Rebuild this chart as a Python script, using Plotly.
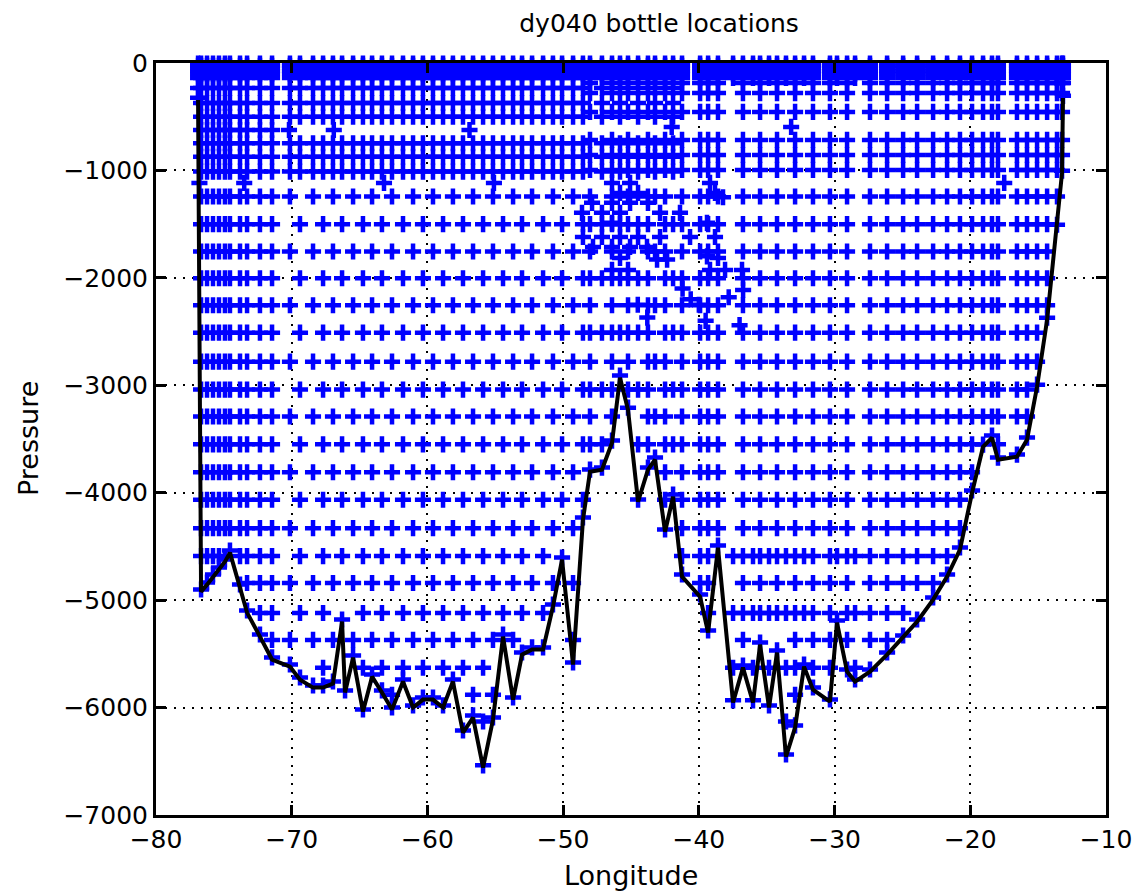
import plotly.graph_objects as go

# Station positions along the section and sea-floor pressure (dbar) at each
station_lon = [
    -76.90, -76.68, -76.24, -75.80, -75.36, -74.92, -74.55, -73.81, -73.29, -72.34,
    -71.45, -70.13, -69.39, -68.43, -67.69, -66.96, -66.29, -66.07, -65.48, -64.75,
    -64.08, -63.35, -62.61, -61.80, -61.06, -60.33, -59.59, -58.85, -58.12, -57.38,
    -56.64, -55.90, -55.17, -54.43, -53.69, -53.03, -52.29, -51.48, -50.75, -50.08,
    -49.27, -48.54, -48.02, -47.14, -46.40, -45.81, -45.22, -44.48, -43.75, -43.23,
    -42.49, -41.90, -41.24, -39.91, -39.32, -38.59, -37.48, -36.75, -36.01, -35.49,
    -34.83, -34.24, -33.58, -32.91, -32.25, -31.59, -30.34, -29.82, -29.08, -28.49,
    -27.39, -26.13, -24.95, -23.92, -22.74, -21.71, -20.76, -19.87, -19.06, -18.40,
    -17.96, -16.56, -15.82, -15.08, -14.34, -13.61, -13.24, -13.17,
]
station_bottom = [
    344, 4921, 4856, 4781, 4716, 4642, 4558, 4874, 5116, 5340,
    5553, 5619, 5740, 5814, 5814, 5777, 5200, 5860, 5535, 6037,
    5712, 5860, 6019, 5758, 6000, 5926, 5926, 6000, 5758, 6233,
    6093, 6558, 6112, 5340, 5926, 5507, 5460, 5460, 5060, 4623,
    5600, 4251, 3805, 3786, 3535, 2930, 3228, 4084, 3786, 3693,
    4363, 4037, 4781, 4967, 5302, 4512, 5953, 5628, 5953, 5414,
    6000, 5488, 6456, 6186, 5619, 5833, 5944, 5209, 5665, 5758,
    5665, 5507, 5349, 5200, 4995, 4781, 4530, 4000, 3572, 3488,
    3693, 3665, 3507, 3014, 2391, 1526, 1023, 326,
]
# Bottle plan per station:
#   w = western slope cast, every level     a = every level
#   e / o = alternate deep levels           d = deep only       b = bottom only
station_plan = [
    "w", "w", "w", "w", "w", "w", "w", "w", "w", "w",
    "w", "e", "o", "e", "o", "e", "o", "b", "e", "o",
    "e", "o", "e", "o", "e", "o", "e", "o", "e", "o",
    "e", "o", "e", "o", "e", "o", "e", "o", "e", "o",
    "e", "o", "a", "o", "a", "o", "a", "o", "a", "e",
    "a", "o", "a", "a", "a", "a", "d", "a", "d", "a",
    "d", "a", "d", "a", "d", "a", "a", "d", "a", "d",
    "a", "a", "a", "a", "a", "a", "a", "a", "a", "a",
    "a", "a", "a", "a", "a", "a", "a", "a",
]

# Bottle trip pressures (dbar)
surface_levels = [5, 25, 50, 75, 100, 140]
upper_levels_west = [233, 372, 500, 747, 872, 1011]
upper_levels_slope = [233, 372, 500, 623, 747, 872, 1011]
upper_levels_east = [186, 280, 455, 716, 856, 995]
deep_levels = [1243, 1500, 1755, 2003, 2255, 2510, 2780, 3040, 3290, 3550,
               3810, 4065, 4330, 4590, 4840, 5120, 5370, 5630, 5880, 6130, 6380]

# Additional bottles closed at intermediate depths over the ridge and elsewhere
extra_lon = [-46.40, -45.07, -45.81, -44.48, -47.87, -46.40, -45.07, -43.75, -48.61, -47.14,
             -45.81, -42.86, -41.39, -46.40, -48.54, -47.14, -45.81, -44.48, -42.86, -40.65,
             -47.80, -46.40, -45.07, -43.82, -45.81, -43.08, -42.34, -46.40, -45.22, -39.18,
             -38.81, -38.22, -39.40, -38.81, -39.40, -38.59, -39.18, -38.07, -36.82, -36.74,
             -44.50, -43.80, -41.20, -40.60, -40.00, -39.50, -37.00, -37.80,
             -76.80, -73.50, -70.20, -66.90, -63.20, -56.90, -55.10, -42.00, -33.20, -17.50]
extra_p = [1116, 1116, 1209, 1209, 1302, 1302, 1302, 1302, 1395, 1395,
           1395, 1395, 1395, 1488, 1619, 1619, 1619, 1619, 1619, 1619,
           1712, 1712, 1712, 1712, 1814, 1830, 1830, 1926, 1926, 1116,
           1209, 1250, 1488, 1619, 1800, 1814, 1926, 1926, 1926, 2112,
           2250, 2370, 2100, 2200, 2250, 2400, 2440, 2180,
           1116, 1116, 623, 623, 1116, 623, 1116, 595, 595, 1116]

upper_by_plan = {"w": upper_levels_slope, "a": upper_levels_east,
                 "e": upper_levels_west, "o": upper_levels_west}

bx, by = [], []
for lon, bot, plan in zip(station_lon, station_bottom, station_plan):
    levels = []
    if plan != "b":
        levels += [p for p in surface_levels if p < bot]
    if plan in upper_by_plan:
        levels += [p for p in upper_by_plan[plan] if p < bot - 60]
    if plan in ("w", "a"):
        levels += [p for p in deep_levels if p < bot - 120]
    elif plan in ("e", "o"):
        start = 0 if plan == "e" else 1
        levels += [p for p in deep_levels[start::2] if p < bot - 120]
    elif plan == "d":
        levels += [p for p in deep_levels[1::2] if 4400 < p < bot - 120]
    levels.append(bot - 20)
    for p in levels:
        bx.append(lon)
        by.append(-p)

bx += extra_lon
by += [-p for p in extra_p]

fig = go.Figure()
fig.add_trace(go.Scatter(
    x=bx, y=by, mode="markers", cliponaxis=False,
    marker=dict(symbol="cross-thin", size=11.5, color="#0000ff",
                line=dict(width=4.5, color="#0000ff")),
    showlegend=False, hoverinfo="skip",
))
fig.add_trace(go.Scatter(
    x=station_lon, y=[-p for p in station_bottom], mode="lines",
    line=dict(color="black", width=4), showlegend=False, hoverinfo="skip",
))

font = "DejaVu Sans, Verdana, sans-serif"
axis_common = dict(
    showline=True, linecolor="black", linewidth=3, mirror="ticks",
    ticks="inside", ticklen=10, tickwidth=2.5, tickcolor="black",
    showgrid=True, gridcolor="black", gridwidth=1.5, griddash="2px,7px",
    zeroline=False, ticklabeloverflow="allow", automargin=False,
    tickfont=dict(family=font, size=25, color="black"),
)
fig.update_xaxes(range=[-80, -10], tickvals=list(range(-80, -9, 10)), **axis_common)
fig.update_yaxes(range=[-7000, 0], tickvals=list(range(-7000, 1, 1000)), **axis_common)

fig.update_layout(
    width=1133, height=892,
    margin=dict(l=156, r=27, t=63, b=77, autoexpand=False),
    paper_bgcolor="white", plot_bgcolor="white",
    font=dict(family=font, color="black"),
    title=dict(text="dy040 bottle locations", x=0.5295, xref="paper", xanchor="center",
               y=1 - 23 / 892, yref="container", yanchor="middle",
               font=dict(family=font, size=25, color="black")),
    annotations=[
        dict(text="Longitude", xref="paper", yref="paper", x=0.5, y=-0.0798,
             xanchor="center", yanchor="middle", showarrow=False,
             font=dict(family=font, size=27, color="black")),
        dict(text="Pressure", xref="paper", yref="paper", x=-0.1347, y=0.5,
             xanchor="center", yanchor="middle", textangle=-90, showarrow=False,
             font=dict(family=font, size=27, color="black")),
    ],
)

fig.write_html("out.html")
